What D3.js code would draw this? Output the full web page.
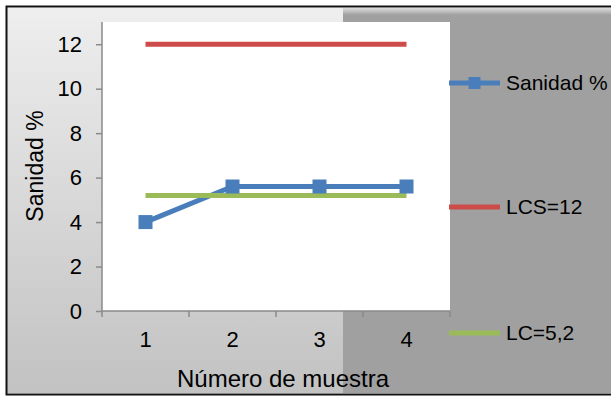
<!DOCTYPE html>
<html>
<head>
<meta charset="utf-8">
<script src="https://cdn.jsdelivr.net/npm/d3@7/dist/d3.min.js"></script>
<style>
  html, body { margin: 0; padding: 0; background: #fff; }
  svg { display: block; font-family: "Liberation Sans", Arial, sans-serif; }
</style>
</head>
<body>
<svg id="chart" width="611" height="397"></svg>
<script>
// Sample numbers and measured sanity values
const categories = ["1", "2", "3", "4"];
const sanidad = [4, 5.6, 5.6, 5.6];
// Control limits
const lcs = [12, 12, 12, 12];
const lc = [5.2, 5.2, 5.2, 5.2];
const yTicks = [0, 2, 4, 6, 8, 10, 12];
const legendLabels = ["Sanidad %", "LCS=12", "LC=5,2"];

const colors = { sanidad: "#4a7ebb", lcs: "#cd4b48", lc: "#9bbb59" };

const svg = d3.select("#chart");
const W = 611, H = 397;

// Backgrounds
const defs = svg.append("defs");
const lg = defs.append("linearGradient").attr("id", "leftBg").attr("x1", 0).attr("y1", 0).attr("x2", 0).attr("y2", 1);
lg.append("stop").attr("offset", "0%").attr("stop-color", "#eeeeee");
lg.append("stop").attr("offset", "100%").attr("stop-color", "#c2c2c2");
const tg = defs.append("linearGradient").attr("id", "rightTop").attr("x1", 0).attr("y1", 0).attr("x2", 0).attr("y2", 1);
tg.append("stop").attr("offset", "0%").attr("stop-color", "#dcdcdc");
tg.append("stop").attr("offset", "100%").attr("stop-color", "#a0a0a0");

svg.append("rect").attr("x", 7).attr("y", 8).attr("width", 343 - 7).attr("height", 393 - 8).attr("fill", "url(#leftBg)");
svg.append("rect").attr("x", 343).attr("y", 8).attr("width", W - 343).attr("height", 393 - 8).attr("fill", "#a0a0a0");
svg.append("rect").attr("x", 343).attr("y", 8).attr("width", W - 343).attr("height", 7).attr("fill", "url(#rightTop)");

// Frame
svg.append("path")
  .attr("d", `M${W},6.5 H6.5 V394.5 H${W}`)
  .attr("fill", "none").attr("stroke", "#111").attr("stroke-width", 2);

// Plot area
const plot = { left: 102, right: 450, top: 22, bottom: 311 };
svg.append("rect").attr("x", plot.left).attr("y", plot.top)
  .attr("width", plot.right - plot.left).attr("height", plot.bottom - plot.top).attr("fill", "#fff");

const x = d3.scaleBand().domain(categories).range([plot.left, plot.right]);
const xc = d => x(d) + x.bandwidth() / 2;
const y = d3.scaleLinear().domain([0, 13]).range([plot.bottom, plot.top]);

// Y axis
const yAxis = svg.append("g").attr("transform", `translate(${plot.left},0)`)
  .call(d3.axisLeft(y).tickValues(yTicks).tickSize(6).tickPadding(14).tickFormat(d3.format("d")));
yAxis.select(".domain").attr("stroke", "#8a8a8a").attr("stroke-width", 1.5).attr("d", `M0,${plot.top}V${plot.bottom}`);
yAxis.selectAll(".tick line").attr("stroke", "#8a8a8a").attr("stroke-width", 1.5);
yAxis.selectAll(".tick text").attr("fill", "#000").attr("font-size", 22).attr("font-family", "Liberation Sans, Arial, sans-serif");

// X axis: ticks at category boundaries
const xAxisG = svg.append("g").attr("transform", `translate(0,${plot.bottom})`);
xAxisG.append("line").attr("x1", plot.left).attr("x2", plot.right)
  .attr("stroke", "#8a8a8a").attr("stroke-width", 1.5);
const bounds = categories.map(c => x(c)).concat([plot.right]);
xAxisG.selectAll("line.tk").data(bounds).join("line").attr("class", "tk")
  .attr("x1", d => d).attr("x2", d => d).attr("y1", 0).attr("y2", 6)
  .attr("stroke", "#8a8a8a").attr("stroke-width", 1.5);
xAxisG.selectAll("text").data(categories).join("text")
  .attr("x", d => xc(d)).attr("y", 36).attr("text-anchor", "middle")
  .attr("font-size", 22).attr("fill", "#000").text(d => d);

// Axis titles
svg.append("text").attr("x", 283).attr("y", 387).attr("text-anchor", "middle")
  .attr("font-size", 24).attr("fill", "#000").text("Número de muestra");
svg.append("text").attr("transform", "translate(43,166) rotate(-90)").attr("text-anchor", "middle")
  .attr("font-size", 23).attr("fill", "#000").text("Sanidad %");

// Series lines
const line = d3.line().x((d, i) => xc(categories[i])).y(d => y(d));
svg.append("path").datum(sanidad).attr("d", line).attr("fill", "none")
  .attr("stroke", colors.sanidad).attr("stroke-width", 5).attr("stroke-linejoin", "round");
svg.append("path").datum(lcs).attr("d", line).attr("fill", "none")
  .attr("stroke", colors.lcs).attr("stroke-width", 5);
svg.append("path").datum(lc).attr("d", line).attr("fill", "none")
  .attr("stroke", colors.lc).attr("stroke-width", 5);

// Markers
const ms = 14;
svg.selectAll("rect.mk").data(sanidad).join("rect").attr("class", "mk")
  .attr("x", (d, i) => xc(categories[i]) - ms / 2).attr("y", d => y(d) - ms / 2)
  .attr("width", ms).attr("height", ms).attr("fill", colors.sanidad);

// Legend
const legendY = [83, 207, 333];
const legendColors = [colors.sanidad, colors.lcs, colors.lc];
const leg = svg.append("g");
legendLabels.forEach((lab, i) => {
  leg.append("line").attr("x1", 449).attr("x2", 500).attr("y1", legendY[i]).attr("y2", legendY[i])
    .attr("stroke", legendColors[i]).attr("stroke-width", 5);
  if (i === 0) {
    leg.append("rect").attr("x", 474.5 - 6).attr("y", legendY[i] - 6).attr("width", 12).attr("height", 12)
      .attr("fill", colors.sanidad);
  }
  leg.append("text").attr("x", 506).attr("y", legendY[i]).attr("dy", "0.35em")
    .attr("font-size", 21).attr("fill", "#000").text(lab);
});
</script>
</body>
</html>
